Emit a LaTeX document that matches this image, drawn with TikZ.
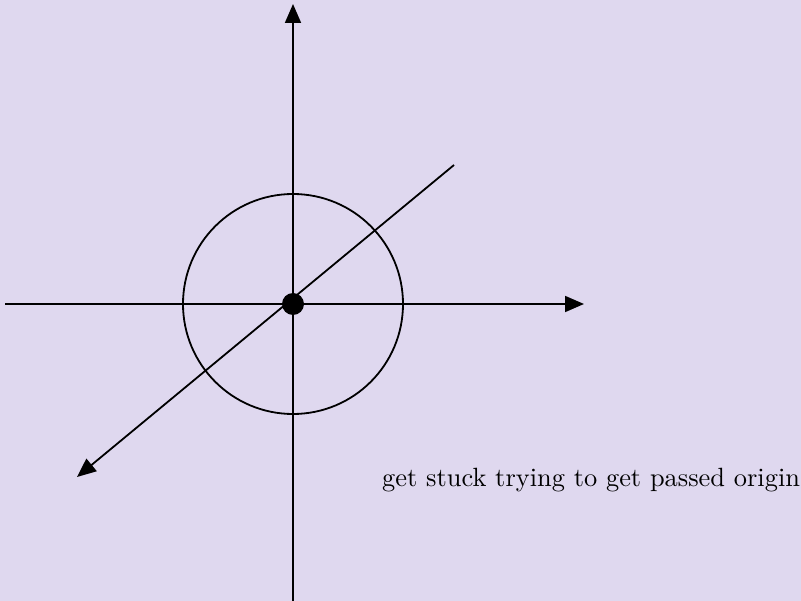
\documentclass[tikz,border=0pt]{standalone}
\usepackage{graphicx}
\usetikzlibrary{arrows.meta}
\definecolor{bgcol}{RGB}{223,216,239}
\begin{document}
\begin{tikzpicture}[x=1pt,y=-1pt,
  axis/.style={line width=1.8pt,-{Triangle[length=19pt,width=16pt]}},
  plain/.style={line width=1.8pt}]
\fill[bgcol] (0,0) rectangle (801,601);
\useasboundingbox (0,0) rectangle (801,601);
\coordinate (O) at (293,304);
\coordinate (L) at (5,304);
\coordinate (R) at (584,304);
\coordinate (T) at (293,4);
\coordinate (B) at (293,601);
\coordinate (D1) at (454,165);
\coordinate (D2) at (77,477);
\draw[axis] (L) -- (R);
\draw[axis] (B) -- (T);
\draw[axis] (D1) -- (D2);
\draw[plain] (O) circle[radius=110];
\fill (O) circle[radius=11];
\node[anchor=base west,inner sep=0pt] (txt) at (382,486) {\scalebox{2.64}{\fontsize{10}{12}\selectfont get stuck trying to get passed origin}};
\end{tikzpicture}
\end{document}
